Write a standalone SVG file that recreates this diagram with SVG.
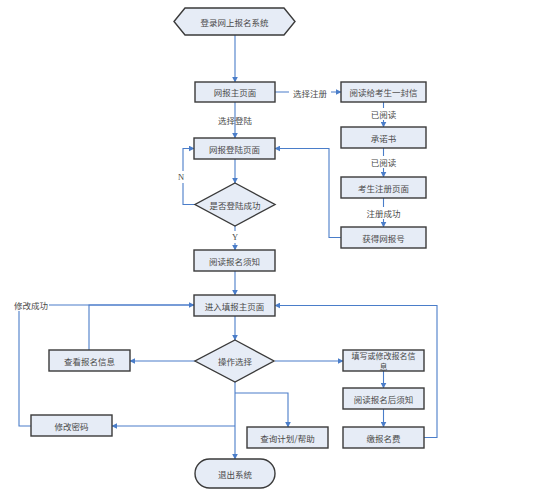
<svg xmlns="http://www.w3.org/2000/svg" width="554" height="499" viewBox="0 0 554 499">
<style>
.n{fill:#E6ECF6;stroke:#3A3A3A;stroke-width:1.4}
.t{font-family:"Noto Sans CJK SC","Liberation Sans",sans-serif;font-size:8.5px;fill:#4A4A4A;text-anchor:middle;dominant-baseline:central}
.s{font-size:8px}
.c{fill:none;stroke:#4A7DC9;stroke-width:1.1}
.lb{font-family:"Noto Sans CJK SC","Liberation Sans",sans-serif;font-size:8.5px;fill:#4A4A4A;text-anchor:middle;dominant-baseline:central}
</style>
<defs>
<marker id="a" viewBox="0 0 10 10" refX="9" refY="5" markerWidth="6" markerHeight="6" orient="auto" markerUnits="userSpaceOnUse">
<path d="M0,0 L10,5 L0,10 z" fill="#4A7DC9"/>
</marker>
</defs>
<rect width="554" height="499" fill="#fff"/>
<g id="connectors">
<path class="c" d="M235,35 V82" marker-end="url(#a)"/>
<path class="c" d="M275,92 H341" marker-end="url(#a)"/>
<path class="c" d="M235,102 V138" marker-end="url(#a)"/>
<path class="c" d="M383.5,102 V127" marker-end="url(#a)"/>
<path class="c" d="M383.5,148 V177" marker-end="url(#a)"/>
<path class="c" d="M383.5,198 V227" marker-end="url(#a)"/>
<path class="c" d="M341,237.5 H329 V148.5 H275" marker-end="url(#a)"/>
<path class="c" d="M235,159 V183" marker-end="url(#a)"/>
<path class="c" d="M195,204.5 H183 V148.5 H194" marker-end="url(#a)"/>
<path class="c" d="M235,226 V250" marker-end="url(#a)"/>
<path class="c" d="M235,271 V295" marker-end="url(#a)"/>
<path class="c" d="M235,316 V340" marker-end="url(#a)"/>
<path class="c" d="M195,361 H130" marker-end="url(#a)"/>
<path class="c" d="M89,350 V305 H194" marker-end="url(#a)"/>
<path class="c" d="M49,305 H194"/>
<path class="c" d="M19,311 V426 H31"/>
<path class="c" d="M275,361 H343" marker-end="url(#a)"/>
<path class="c" d="M383.5,371 V388" marker-end="url(#a)"/>
<path class="c" d="M383.5,409 V427" marker-end="url(#a)"/>
<path class="c" d="M424,437.5 H437 V305.5 H275" marker-end="url(#a)"/>
<path class="c" d="M235,382 V459" marker-end="url(#a)"/>
<path class="c" d="M235,393 H288 V427" marker-end="url(#a)"/>
<path class="c" d="M235,426 H112" marker-end="url(#a)"/>
<rect x="289" y="86" width="42" height="13" fill="#fff"/>
<text class="lb" x="310" y="92.5">选择注册</text>
<text class="lb" x="235" y="120">选择登陆</text>
<rect x="369" y="108" width="29" height="12" fill="#fff"/>
<text class="lb" x="383.5" y="114">已阅读</text>
<rect x="369" y="156" width="29" height="12" fill="#fff"/>
<text class="lb" x="383.5" y="162">已阅读</text>
<rect x="364" y="207" width="39" height="12" fill="#fff"/>
<text class="lb" x="383.5" y="213">注册成功</text>
<rect x="176" y="171" width="10" height="12" fill="#fff"/>
<text class="lb" x="181" y="177" style="font-family:'Liberation Serif',serif">N</text>
<rect x="230" y="231" width="10" height="12" fill="#fff"/>
<text class="lb" x="235" y="237" style="font-family:'Liberation Serif',serif">Y</text>
<text class="lb" x="31" y="305">修改成功</text>
</g>
<g id="start"><path class="n" d="M174,21.5 L185,8 H284 L295,21.5 L284,35 H185 Z"/><text class="t" x="234.5" y="21.5">登录网上报名系统</text></g>
<g id="main"><rect class="n" x="195" y="82" width="80" height="20"/><text class="t" x="235" y="92">网报主页面</text></g>
<g id="letter"><rect class="n" x="341" y="82" width="85" height="20"/><text class="t" x="383.5" y="92">阅读给考生一封信</text></g>
<g id="promise"><rect class="n" x="341" y="127" width="85" height="21"/><text class="t" x="383.5" y="137.5">承诺书</text></g>
<g id="register"><rect class="n" x="341" y="177" width="85" height="21"/><text class="t" x="383.5" y="187.5">考生注册页面</text></g>
<g id="getno"><rect class="n" x="341" y="227" width="85" height="21"/><text class="t" x="383.5" y="237.5">获得网报号</text></g>
<g id="login"><rect class="n" x="194" y="138" width="81" height="21"/><text class="t" x="234.5" y="148.5">网报登陆页面</text></g>
<g id="ok"><path class="n" d="M235,183 L275,204.5 L235,226 L195,204.5 Z"/><text class="t" x="235" y="204.5">是否登陆成功</text></g>
<g id="notice"><rect class="n" x="194" y="250" width="81" height="21"/><text class="t" x="234.5" y="260.5">阅读报名须知</text></g>
<g id="fill"><rect class="n" x="194" y="295" width="81" height="21"/><text class="t" x="234.5" y="305.5">进入填报主页面</text></g>
<g id="op"><path class="n" d="M235,340 L274,361 L235,382 L195,361 Z"/><text class="t" x="235" y="361">操作选择</text></g>
<g id="view"><rect class="n" x="49" y="350" width="81" height="21"/><text class="t" x="89.5" y="360.5">查看报名信息</text></g>
<g id="edit"><rect class="n" x="343" y="350" width="81" height="21"/><text class="t s" x="383.5" y="355">填写或修改报名信</text><text class="t s" x="383.5" y="366">息</text></g>
<g id="after"><rect class="n" x="343" y="388" width="81" height="21"/><text class="t" x="383.5" y="398.5">阅读报名后须知</text></g>
<g id="pay"><rect class="n" x="343" y="427" width="81" height="21"/><text class="t" x="383.5" y="437.5">缴报名费</text></g>
<g id="pwd"><rect class="n" x="31" y="415" width="81" height="21"/><text class="t" x="71.5" y="425.5">修改密码</text></g>
<g id="query"><rect class="n" x="247" y="427" width="81" height="21"/><text class="t" x="287.5" y="437.5">查询计划/帮助</text></g>
<g id="exit"><rect class="n" x="195" y="459" width="80" height="29" rx="14.5"/><text class="t" x="235" y="473.5">退出系统</text></g>
</svg>
